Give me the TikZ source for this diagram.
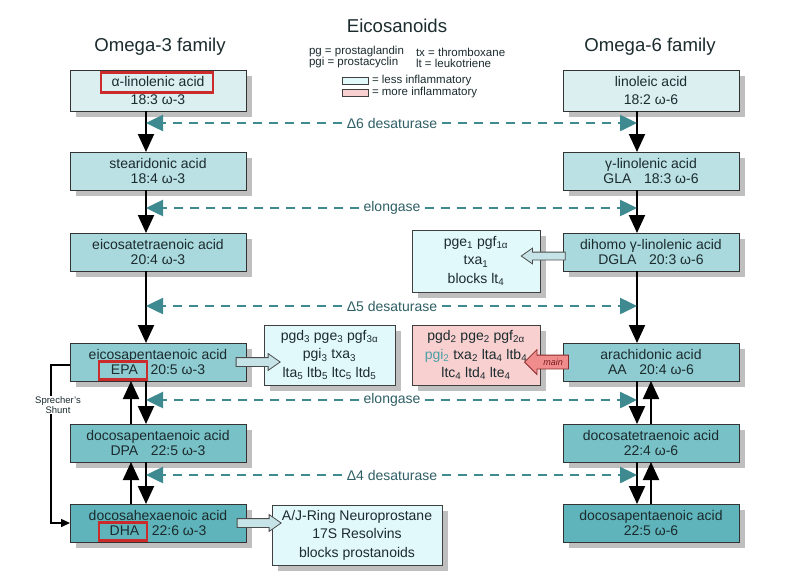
\documentclass[tikz,border=0pt]{standalone}
\usepackage{fontspec}
\setmainfont{Liberation Sans}
\usetikzlibrary{arrows.meta,shadows,shapes.arrows}
\definecolor{rA}{HTML}{DBEFF1}
\definecolor{rB}{HTML}{BBE1E4}
\definecolor{rC}{HTML}{A9D9DD}
\definecolor{rD}{HTML}{8FCCD1}
\definecolor{rE}{HTML}{78C2C7}
\definecolor{rF}{HTML}{5EB4BA}
\definecolor{side}{HTML}{E2F9FB}
\definecolor{pinkbox}{HTML}{F9D0D0}
\definecolor{tealA}{HTML}{3E8A90}
\definecolor{lbl}{HTML}{2F5F65}
\definecolor{txt}{HTML}{1B2B2E}
\definecolor{redhl}{HTML}{CC2B2B}
\definecolor{arrowfill}{HTML}{C6E4E8}
\definecolor{mainfill}{HTML}{F08C8C}
\definecolor{maindraw}{HTML}{8A2A2A}
\definecolor{maintext}{HTML}{7A1A1A}
\definecolor{pgicol}{HTML}{4A9FA6}
\newcommand\sbs[1]{\textsubscript{#1}}
\begin{document}
\begin{tikzpicture}[x=1pt,y=-1pt,
  every node/.style={inner sep=0pt, outer sep=0pt},
  shad/.style={drop shadow={shadow xshift=6pt,shadow yshift=-6pt,fill=black!25,opacity=1}},
  acid/.style={shad, draw=black!80, line width=0.8pt, minimum width=176pt, minimum height=38pt, align=center, text=txt, font=\fontsize{14}{15.5}\selectfont},
  toprow/.style={minimum height=41pt, font=\fontsize{14}{18}\selectfont},
  prod/.style={shad, draw=black!75, line width=0.8pt, fill=side, align=center, text=txt, font=\fontsize{14}{18.5}\selectfont, minimum height=60pt},
  hl/.style={draw=redhl, line width=2.6pt, minimum width=48pt, minimum height=18pt},
  down/.style={line width=2pt, -{Triangle[length=18pt,width=16pt]}},
  enz/.style={line width=2.5pt, draw=tealA, dash pattern=on 9pt off 7pt, -{Triangle[length=17pt,width=16pt,fill=tealA]}},
  enzlab/.style={fill=white, inner xsep=5pt, inner ysep=2pt, text=lbl, font=\fontsize{14}{16}\selectfont},
  barrow/.style={single arrow, draw=black!70, line width=0.8pt, fill=arrowfill, minimum height=44pt, single arrow head extend=4pt, single arrow tip angle=70, inner sep=4pt},
  legend/.style={anchor=west, text=txt, font=\fontsize{11.5}{12}\selectfont},
  swatch/.style={draw=black!75, line width=0.7pt, minimum width=26pt, minimum height=7pt},
  title/.style={text=txt, font=\fontsize{18.6}{20}\selectfont}
]
\useasboundingbox (0,0) rectangle (791,587);
\fill[white] (0,0) rectangle (791,587);

% titles and legend
\node[title] (eic) at (397,26) {Eicosanoids};
\node[title] (om3) at (160,47) {Omega-3 family};
\node[title] (om6) at (650,47) {Omega-6 family};
\node[legend] (lg1) at (309,52) {pg = prostaglandin};
\node[legend] (lg2) at (416,52) {tx = thromboxane};
\node[legend] (lg3) at (309,63) {pgi = prostacyclin};
\node[legend] (lg4) at (416,63) {lt = leukotriene};
\node[swatch, fill=side] (sw1) at (355,81) {};
\node[swatch, fill=pinkbox] (sw2) at (355,92.5) {};
\node[legend] (lg5) at (372,81) {= less inflammatory};
\node[legend] (lg6) at (372,92.5) {= more inflammatory};

% coordinates of vertical lines
\coordinate (xl) at (146,0);
\coordinate (xlu) at (131,0);
\coordinate (xr) at (637,0);
\coordinate (xru) at (651,0);

% omega-3 column
\node[acid, fill=rA, toprow] (ala) at (158,90.5) {α-linolenic acid\\18:3 ω-3};
\node[acid, fill=rB] (sda) at (158,171) {stearidonic acid\\18:4 ω-3};
\node[acid, fill=rC] (eta) at (158,252) {eicosatetraenoic acid\\20:4 ω-3};
\node[acid, fill=rD] (epa) at (158,362) {eicosapentaenoic acid\\EPA\hspace{0.9em}20:5 ω-3};
\node[acid, fill=rE] (dpa) at (158,443) {docosapentaenoic acid\\DPA\hspace{0.9em}22:5 ω-3};
\node[acid, fill=rF] (dha) at (158,523) {docosahexaenoic acid\\DHA\hspace{0.9em}22:6 ω-3};

% omega-6 column
\node[acid, fill=rA, toprow] (la) at (651,90.5) {linoleic acid\\18:2 ω-6};
\node[acid, fill=rB] (gla) at (651,171) {γ-linolenic acid\\GLA\hspace{0.9em}18:3 ω-6};
\node[acid, fill=rC] (dgla) at (651,252) {dihomo γ-linolenic acid\\DGLA\hspace{0.9em}20:3 ω-6};
\node[acid, fill=rD] (aa) at (651,362) {arachidonic acid\\AA\hspace{0.9em}20:4 ω-6};
\node[acid, fill=rE] (dta) at (651,443) {docosatetraenoic acid\\22:4 ω-6};
\node[acid, fill=rF] (dpa6) at (651,523) {docosapentaenoic acid\\22:5 ω-6};

% highlights
\node[hl, minimum width=112pt, minimum height=20pt] (hlala) at (157,82.5) {};
\node[hl] (hlepa) at (123,370.5) {};
\node[hl] (hldha) at (123,531.5) {};

% product boxes
\node[prod, minimum width=128pt, minimum height=62pt] (pdgla) at (476,261) {pge\sbs{1} pgf\sbs{1α}\\txa\sbs{1}\\blocks lt\sbs{4}};
\node[prod, minimum width=131pt] (pepa) at (329.5,355) {pgd\sbs{3} pge\sbs{3} pgf\sbs{3α}\\pgi\sbs{3} txa\sbs{3}\\lta\sbs{5} ltb\sbs{5} ltc\sbs{5} ltd\sbs{5}};
\node[prod, fill=pinkbox, minimum width=128pt] (paa) at (476,355) {pgd\sbs{2} pge\sbs{2} pgf\sbs{2α}\\\textcolor{pgicol}{pgi\sbs{2}} txa\sbs{2} lta\sbs{4} ltb\sbs{4}\\ltc\sbs{4} ltd\sbs{4} lte\sbs{4}};
\node[prod, minimum width=170pt] (pdha) at (357,535) {A/J-Ring Neuroprostane\\17S Resolvins\\blocks prostanoids};

% block arrows
\node[barrow] (ar1) at (255,362) {};
\node[barrow, shape border rotate=180, inner sep=3.5pt] (ar2) at (546,256) {};
\node[barrow] (ar3) at (256,523) {};
\node[barrow, fill=mainfill, draw=maindraw, shape border rotate=180, inner sep=6.5pt, single arrow head extend=5.5pt, single arrow tip angle=90] (ar4) at (550,362) {};
\node[font=\fontsize{9}{10}\selectfont\itshape, text=maintext] (mainlab) at (553,362) {main};

% vertical conversions, omega-3
\draw[down] (ala.south -| xl) -- (sda.north -| xl);
\draw[down] (sda.south -| xl) -- (eta.north -| xl);
\draw[down] (eta.south -| xl) -- (epa.north -| xl);
\draw[down] (epa.south -| xl) -- (dpa.north -| xl);
\draw[down] (dpa.north -| xlu) -- (epa.south -| xlu);
\draw[down] (dpa.south -| xl) -- (dha.north -| xl);
\draw[down] (dha.north -| xlu) -- (dpa.south -| xlu);

% vertical conversions, omega-6
\draw[down] (la.south -| xr) -- (gla.north -| xr);
\draw[down] (gla.south -| xr) -- (dgla.north -| xr);
\draw[down] (dgla.south -| xr) -- (aa.north -| xr);
\draw[down] (aa.south -| xr) -- (dta.north -| xr);
\draw[down] (dta.north -| xru) -- (aa.south -| xru);
\draw[down] (dta.south -| xr) -- (dpa6.north -| xr);
\draw[down] (dpa6.north -| xru) -- (dta.south -| xru);

% enzymes
\node[enzlab] (e1) at (392,123) {Δ6 desaturase};
\node[enzlab] (e2) at (392,208) {elongase};
\node[enzlab] (e3) at (392,306) {Δ5 desaturase};
\node[enzlab] (e4) at (392,400) {elongase};
\node[enzlab] (e5) at (392,475) {Δ4 desaturase};
\foreach \e in {e1,e2,e3,e4,e5}{
  \draw[enz] (\e.west) -- (\e.west -| xl);
  \draw[enz] (\e.east) -- (\e.east -| xr);
}

% Sprecher's shunt
\coordinate (sh1) at (51,365);
\coordinate (sh2) at (51,523);
\draw[line width=1.5pt, -{Triangle[length=9pt,width=8pt]}] (epa.west |- sh1) -- (sh1) -- (sh2) -- (dha.west);
\node[fill=white, inner sep=1pt, align=center, text=txt, font=\fontsize{9.5}{10}\selectfont] (shlab) at (58,405) {Sprecher's\\Shunt};
\end{tikzpicture}
\end{document}
